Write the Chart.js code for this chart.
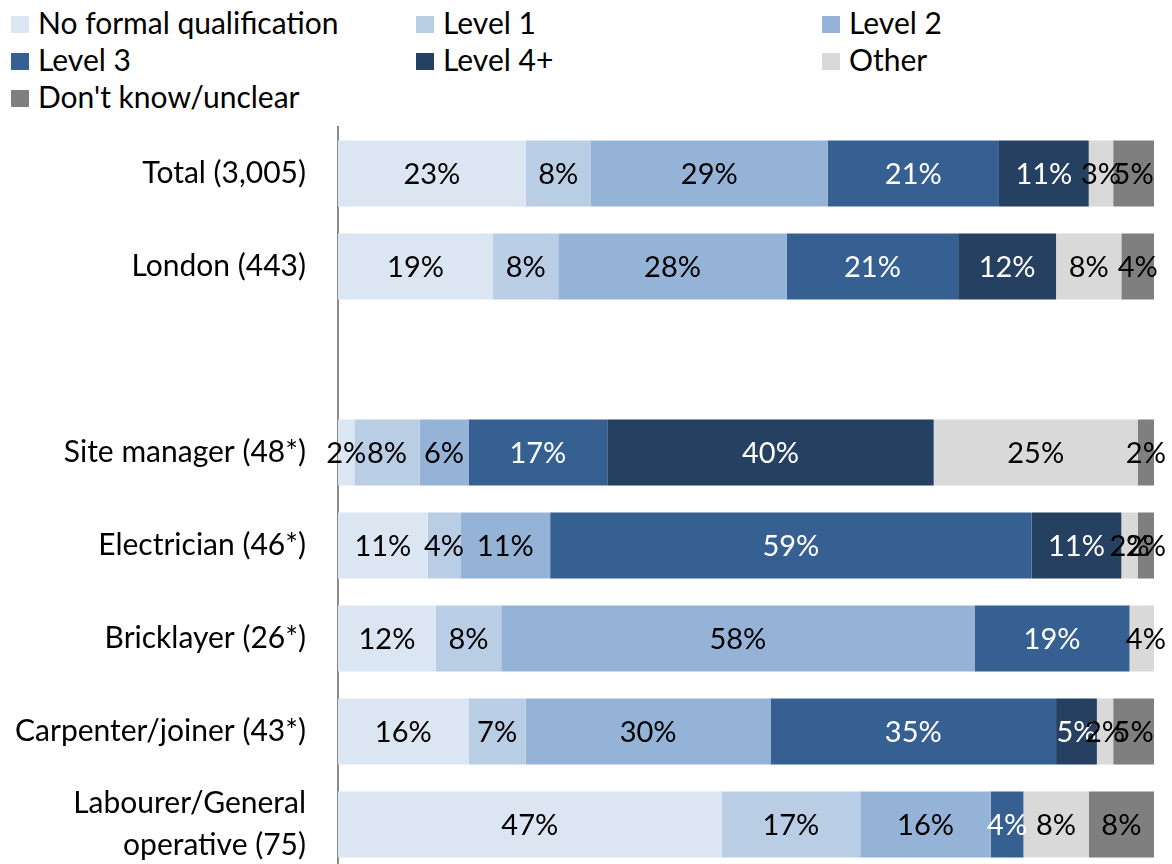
<!DOCTYPE html>
<html>
<head>
<meta charset="utf-8">
<title>Qualification levels by occupation</title>
<script src="https://cdn.jsdelivr.net/npm/chart.js@4.4.1/dist/chart.umd.min.js"></script>
<style>
  body { margin: 0; background: #fff; font-family: Lato, "Open Sans", sans-serif; overflow: hidden; }
  #legend { position: absolute; left: 0; top: 0; width: 1172px; height: 120px; }
  .item { position: absolute; font-size: 30px; line-height: 36px; color: #000; white-space: nowrap; }
  .box { display: inline-block; width: 18px; height: 17px; margin-right: 9px; vertical-align: 1px; }
  #chart { position: absolute; left: 0; top: 120px; }
</style>
</head>
<body>
<div id="legend"></div>
<canvas id="chart" width="1172" height="751"></canvas>
<script>
// categories (blank row separates totals from occupations)
const categories = [
  "Total (3,005)",
  "London (443)",
  "",
  "Site manager (48*)",
  "Electrician (46*)",
  "Bricklayer (26*)",
  "Carpenter/joiner (43*)",
  ["Labourer/General", "operative (75)"]
];

// percentages per qualification level
const noFormal = [23, 19, null, 2, 11, 12, 16, 47];
const level1   = [8, 8, null, 8, 4, 8, 7, 17];
const level2   = [29, 28, null, 6, 11, 58, 30, 16];
const level3   = [21, 21, null, 17, 59, 19, 35, 4];
const level4   = [11, 12, null, 40, 11, 0, 5, 0];
const other    = [3, 8, null, 25, 2, 4, 2, 8];
const dontKnow = [5, 4, null, 2, 2, 0, 5, 8];

const seriesNames = ["No formal qualification", "Level 1", "Level 2", "Level 3", "Level 4+", "Other", "Don't know/unclear"];
const seriesData = [noFormal, level1, level2, level3, level4, other, dontKnow];
const colors = ["#DCE6F2", "#B9CDE5", "#95B3D7", "#376092", "#254061", "#D9D9D9", "#7F7F7F"];
const labelColors = ["#000", "#000", "#000", "#fff", "#fff", "#000", "#000"];

// html legend, three columns
const legendEl = document.getElementById("legend");
const colLeft = [11, 416, 822];
seriesNames.forEach((name, i) => {
  const col = i % 3, row = Math.floor(i / 3);
  const div = document.createElement("div");
  div.className = "item";
  div.style.left = colLeft[col] + "px";
  div.style.top = (4 + row * 37) + "px";
  div.innerHTML = '<span class="box" style="background:' + colors[i] + '"></span>' + name.replace(/'/g, "&#39;");
  legendEl.appendChild(div);
});

// draws the % value in the middle of each segment
const segmentLabels = {
  id: "segmentLabels",
  afterDatasetsDraw(chart) {
    const ctx = chart.ctx;
    ctx.save();
    ctx.font = "29px Lato, 'Open Sans', sans-serif";
    ctx.textAlign = "center";
    ctx.textBaseline = "middle";
    chart.data.datasets.forEach((ds, i) => {
      const meta = chart.getDatasetMeta(i);
      meta.data.forEach((bar, j) => {
        const v = ds.data[j];
        if (!v) return;
        ctx.fillStyle = ds.labelColor;
        ctx.fillText(v + "%", (bar.x + bar.base) / 2, bar.y + 1);
      });
    });
    ctx.restore();
  }
};

new Chart(document.getElementById("chart"), {
  type: "bar",
  data: {
    labels: categories,
    datasets: seriesData.map((d, i) => ({
      label: seriesNames[i],
      data: d,
      backgroundColor: colors[i],
      labelColor: labelColors[i],
      borderWidth: 0,
      categoryPercentage: 1,
      barPercentage: 0.71,
      clip: 0
    }))
  },
  options: {
    indexAxis: "y",
    responsive: false,
    animation: false,
    layout: { padding: { top: 7, right: 18, left: 0, bottom: 0 } },
    plugins: {
      legend: { display: false },
      tooltip: { enabled: false }
    },
    scales: {
      x: { stacked: true, min: 0, max: 100, display: false },
      y: {
        stacked: true,
        grid: { display: false, drawTicks: false },
        border: { display: true, color: "#8a8a8a", width: 2 },
        ticks: {
          color: "#000",
          padding: 32,
          font: { family: "Lato, 'Open Sans', sans-serif", size: 30, lineHeight: 1.4 }
        },
        afterFit(scale) {
          scale.width = 338;
          scale.paddingTop = 0;
          scale.paddingBottom = 0;
        }
      }
    }
  },
  plugins: [segmentLabels]
});
</script>
</body>
</html>
